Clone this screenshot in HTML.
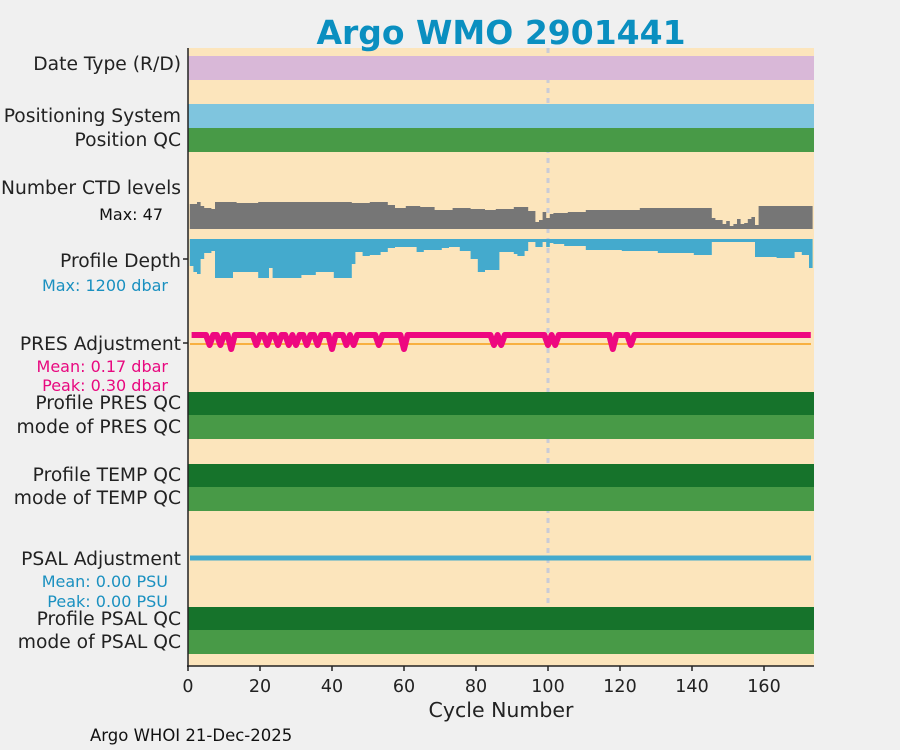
<!DOCTYPE html>
<html><head><meta charset="utf-8"><style>
body{margin:0;background:#f0f0f0;}
svg{display:block;font-family:"DejaVu Sans","Liberation Sans",sans-serif;}
</style></head><body>
<svg id="s" width="900" height="750" viewBox="0 0 900 750" xmlns="http://www.w3.org/2000/svg">
<rect width="900" height="750" fill="#f0f0f0"/>
<rect x="188" y="48" width="626" height="618" fill="#fce5bc"/>
<line x1="548" y1="48" x2="548" y2="605" stroke="#c9ccd8" stroke-width="3" stroke-dasharray="5,5"/>
<rect x="188" y="56" width="626" height="24" fill="#d9b8d8"/>
<rect x="188" y="104" width="626" height="24" fill="#7fc5de"/>
<rect x="188" y="128" width="626" height="24" fill="#489a47"/>
<path id="ctd" fill="#767676"/>
<path id="dep" fill="#44aacd"/>
<line x1="190" y1="344" x2="811" y2="344" stroke="#f8b040" stroke-width="2"/>
<path id="pres" fill="none" stroke="#ee0880" stroke-width="6" stroke-linejoin="round"/>
<rect x="188" y="392" width="626" height="23" fill="#16732b"/>
<rect x="188" y="415" width="626" height="24" fill="#489a47"/>
<rect x="188" y="464" width="626" height="23" fill="#16732b"/>
<rect x="188" y="487" width="626" height="24" fill="#489a47"/>
<line x1="190" y1="558" x2="811" y2="558" stroke="#44aacd" stroke-width="5"/>
<rect x="188" y="607" width="626" height="23" fill="#16732b"/>
<rect x="188" y="630" width="626" height="24" fill="#489a47"/>
<line x1="188" y1="48" x2="188" y2="667" stroke="#222" stroke-width="1.5"/>
<line x1="187" y1="666" x2="814" y2="666" stroke="#222" stroke-width="1.5"/>
<line x1="183" y1="259" x2="188" y2="259" stroke="#222" stroke-width="1.5"/>
<line x1="183" y1="343" x2="188" y2="343" stroke="#222" stroke-width="1.5"/>
<g id="xt" font-size="17.5" fill="#222" text-anchor="middle"></g>
<text x="501" y="44" font-size="33" font-weight="bold" fill="#0a8fc0" text-anchor="middle">Argo WMO 2901441</text>
<g font-size="18.7" fill="#222" text-anchor="end">
<text x="181" y="70">Date Type (R/D)</text>
<text x="181" y="122">Positioning System</text>
<text x="181" y="146">Position QC</text>
<text x="181" y="194">Number CTD levels</text>
<text x="181" y="267">Profile Depth</text>
<text x="181" y="350">PRES Adjustment</text>
<text x="181" y="409">Profile PRES QC</text>
<text x="181" y="433">mode of PRES QC</text>
<text x="181" y="481">Profile TEMP QC</text>
<text x="181" y="504">mode of TEMP QC</text>
<text x="181" y="565">PSAL Adjustment</text>
<text x="181" y="625">Profile PSAL QC</text>
<text x="181" y="648">mode of PSAL QC</text>
</g>
<g font-size="16" text-anchor="end">
<text x="163" y="220" fill="#111">Max: 47</text>
<text x="168" y="291" fill="#1a90c0">Max: 1200 dbar</text>
<text x="168" y="372" fill="#e8087f">Mean: 0.17 dbar</text>
<text x="168" y="391" fill="#e8087f">Peak: 0.30 dbar</text>
<text x="168" y="587" fill="#1a90c0">Mean: 0.00 PSU</text>
<text x="168" y="607" fill="#1a90c0">Peak: 0.00 PSU</text>
</g>
<text x="501" y="717" font-size="20.5" fill="#222" text-anchor="middle">Cycle Number</text>
<text x="90" y="741" font-size="16.5" fill="#111">Argo WHOI 21-Dec-2025</text>
</svg>
<script>
var NS="http://www.w3.org/2000/svg";
function X(c){return 188+3.6*c;}
function seg(list){var a=[];list.forEach(function(s){for(var c=s[0];c<=s[1];c++)a[c]=s[2];});return a;}
var ctd=seg([[1,2,204],[3,3,202],[4,4,206],[5,6,208],[7,7,209],[8,13,202],[14,19,203],[20,55,202],[46,50,203],[56,57,205],[58,60,208],[61,64,206],[65,68,207],[69,73,210],[74,78,208],[79,82,209],[83,85,210],[86,90,209],[91,94,207],[95,96,211],[97,97,222],[98,98,220],[99,99,212],[100,100,218],[101,101,214],[102,105,213],[106,110,212],[111,125,210],[126,145,208],[146,146,218],[147,148,220],[149,149,224],[150,150,221],[151,151,226],[152,152,224],[153,153,219],[154,154,224],[155,155,223],[156,156,219],[157,157,217],[158,158,225],[159,173,206]]);
var dep=seg([[1,1,266],[2,2,272],[3,3,274],[4,4,259],[5,6,253],[7,7,251],[8,12,278],[13,22,272],[20,22,278],[23,23,268],[24,31,278],[32,35,275],[36,40,272],[41,45,278],[46,46,264],[47,48,252],[49,50,256],[51,53,255],[54,55,252],[56,57,248],[58,63,247],[64,65,252],[66,70,250],[71,72,248],[73,75,247],[76,78,251],[79,80,259],[81,82,272],[83,86,270],[87,90,252],[91,91,254],[92,93,256],[94,94,251],[95,96,242],[97,98,247],[99,99,242],[100,100,247],[101,101,243],[102,104,244],[105,110,246],[111,120,250],[121,130,251],[131,140,253],[141,145,255],[146,157,242],[158,163,257],[164,168,258],[169,170,252],[171,172,255],[173,173,268]]);
var p1="M"+X(0.5)+",229",p2="M"+X(0.5)+",239";
for(var c=1;c<=173;c++){
 p1+=" L"+X(c-0.5)+","+ctd[c]+" L"+X(c+0.5)+","+ctd[c];
 p2+=" L"+X(c-0.5)+","+dep[c]+" L"+X(c+0.5)+","+dep[c];
}
p1+=" L"+X(173.5)+",229 Z";p2+=" L"+X(173.5)+",239 Z";
document.getElementById("ctd").setAttribute("d",p1);
document.getElementById("dep").setAttribute("d",p2);
var dips={6:1,9:1,12:1,19:1,22:1,25:1,28:1,30:1,33:1,36:1,40:1,44:1,46:1,53:1,60:1,85:1,87:1,100:1,102:1,118:1,123:1};
var d="M"+X(1)+",335";
for(c=2;c<=173;c++){d+=" L"+X(c)+","+(dips[c]?(c==118||c==12||c==60||c==40?349:345):335);}
document.getElementById("pres").setAttribute("d",d);
var xt=document.getElementById("xt");
for(var k=0;k<=8;k++){var x=188+72*k;
 var l=document.createElementNS(NS,"line");l.setAttribute("x1",x);l.setAttribute("x2",x);l.setAttribute("y1",666);l.setAttribute("y2",671);l.setAttribute("stroke","#222");l.setAttribute("stroke-width","1.5");xt.appendChild(l);
 var t=document.createElementNS(NS,"text");t.setAttribute("x",x);t.setAttribute("y",692);t.textContent=20*k;xt.appendChild(t);}
</script>
</body></html>
